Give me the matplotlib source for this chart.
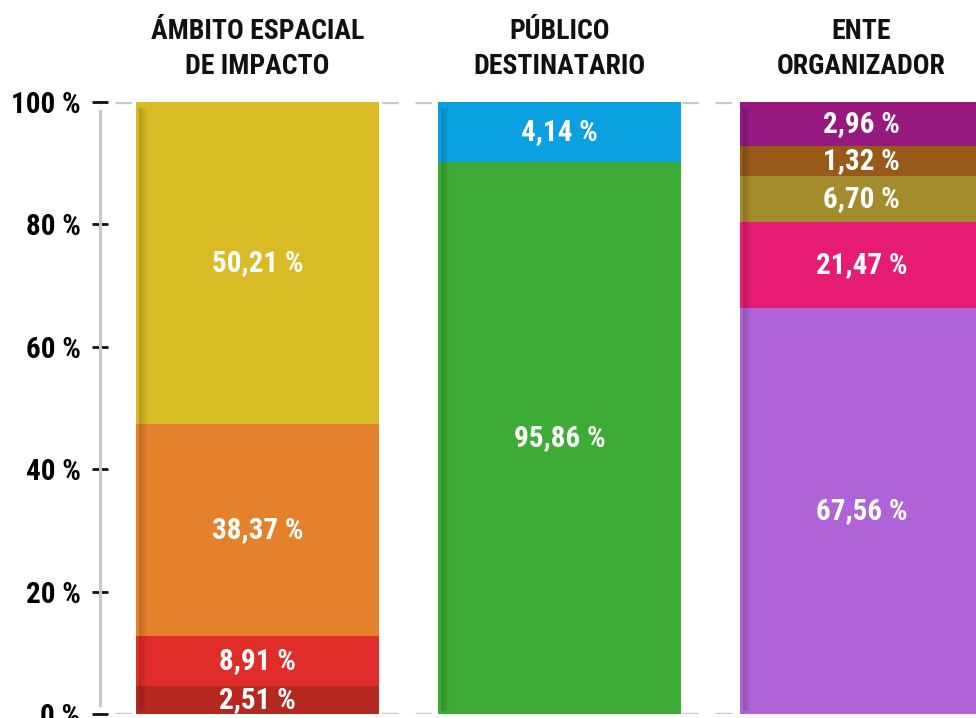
import matplotlib
matplotlib.use("Agg")
import matplotlib.pyplot as plt
from matplotlib import font_manager as fm
import numpy as np

# ---------------- data ----------------
categories = ["ÁMBITO ESPACIAL\nDE IMPACTO", "PÚBLICO\nDESTINATARIO", "ENTE\nORGANIZADOR"]

# segment heights as drawn (bottom -> top), percent of the bar
amb_heights = [4.6, 8.2, 34.6, 52.6]
pub_heights = [90.2, 9.8]
ente_heights = [66.3, 14.1, 7.5, 4.9, 7.2]

# printed labels (bottom -> top)
amb_labels = ["2,51 %", "8,91 %", "38,37 %", "50,21 %"]
pub_labels = ["95,86 %", "4,14 %"]
ente_labels = ["67,56 %", "21,47 %", "6,70 %", "1,32 %", "2,96 %"]

amb_colors = ["#b52820", "#e02d2a", "#e4812a", "#d8bb25"]
pub_colors = ["#3dab35", "#0aa0e2"]
ente_colors = ["#b062d8", "#e51c72", "#a38c2b", "#985a19", "#95197e"]

y_ticks = [0, 20, 40, 60, 80, 100]
y_ticklabels = ["0 %", "20 %", "40 %", "60 %", "80 %", "100 %"]

# ---------------- font ----------------
names = {f.name for f in fm.fontManager.ttflist}
fam = None
for cand in ["Roboto Condensed", "Liberation Sans Narrow", "DejaVu Sans Condensed", "DejaVu Sans"]:
    if cand in names:
        fam = cand
        break
plt.rcParams["font.family"] = [fam, "DejaVu Sans"]

W, H = 976, 718
fig = plt.figure(figsize=(W / 100, H / 100), dpi=100)
ax = fig.add_axes([100 / W, 4 / H, 1 - 100 / W, 612 / H])

spacing_px = 302.0
bar_w = 243 / spacing_px
ax.set_xlim((100 - 257.5) / spacing_px, (976 - 257.5) / spacing_px)
ax.set_ylim(0, 100)

stacks = [(amb_heights, amb_labels, amb_colors),
          (pub_heights, pub_labels, pub_colors),
          (ente_heights, ente_labels, ente_colors)]

for yv in (0, 100):
    ax.axhline(yv, color="#c9c9c9", lw=2.4, ls=(0, (5, 5)), zorder=1,
               xmin=(115 - 100) / (976 - 100))

for i, (hs, labs, cols) in enumerate(stacks):
    bottom = 0.0
    for h, lab, c in zip(hs, labs, cols):
        ax.bar(i, h, bottom=bottom, width=bar_w, color=c, zorder=2, linewidth=0)
        ax.text(i, bottom + h / 2, lab, ha="center", va="center", color="white",
                fontsize=21, fontweight="bold", zorder=5)
        bottom += h
    # left-edge shading strip
    left = i - bar_w / 2
    px = 1 / spacing_px
    for k in range(8):
        ax.bar(left + (3 + k) * px, bottom - 1.5, bottom=0.5, width=px, align="edge",
               color="black", alpha=0.16 * (1 - k / 8), linewidth=0, zorder=3)
    ax.text(i, 100 + 53 / 612 * 100, categories[i], ha="center", va="center",
            fontsize=20, fontweight="bold", color="#111111", linespacing=1.35,
            clip_on=False)

ax.set_yticks(y_ticks)
ax.set_yticklabels(y_ticklabels)
ax.tick_params(axis="y", direction="inout", length=12, width=2, color="#111111",
               pad=8, labelsize=21)
for t in ax.get_yticklabels():
    t.set_fontweight("bold")
ax.set_xticks([])
for s in ["top", "right", "bottom"]:
    ax.spines[s].set_visible(False)
ax.spines["left"].set_color("#c9c9c9")
ax.spines["left"].set_linewidth(2.2)
ax.spines["left"].set_bounds(1.5, 98.5)
ax.set_facecolor("white")

fig.savefig("out.png", dpi=100, facecolor="white")
print(fam)
